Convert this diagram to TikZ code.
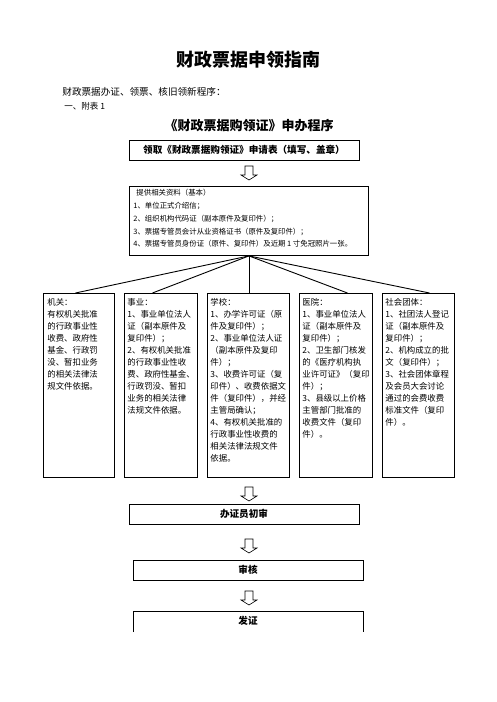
\documentclass[tikz,border=0pt]{standalone}
\usepackage{fontspec}
\setmainfont{Noto Sans CJK SC}

\begin{document}
\begin{tikzpicture}[x=1pt,y=-1pt,line width=0.9pt,
  stepbox/.style={draw, rectangle, minimum height=20pt, inner sep=0pt, font=\bfseries\fontsize{9.6}{10}\selectfont},
  catbox/.style={draw, rectangle, anchor=north west, minimum height=184pt, inner sep=0pt},
  cattext/.style={anchor=north west, inner sep=0pt, align=left, font=\fontsize{8.4}{12}\selectfont},
  hollow/.pic={\draw[line width=0.6pt] (-4,0) -- (4,0) -- (4,9) -- (8,9) -- (0,14) -- (-8,9) -- (-4,9) -- cycle;}]
	\useasboundingbox (0,0) rectangle (496,702);
	% heading
	\node[font=\bfseries\fontsize{18}{18}\selectfont] (title) at (248,60) {财政票据申领指南};
	\node[anchor=west, inner sep=0pt, font=\fontsize{9.6}{10}\selectfont] (intro) at (62,92) {财政票据办证、领票、核旧领新程序：};
	\node[anchor=west, inner sep=0pt, font=\fontsize{8.5}{10}\selectfont] (annex) at (64,106) {一、附表 1};
	\node[font=\bfseries\fontsize{13}{13}\selectfont] (subtitle) at (249,126) {《财政票据购领证》申办程序};
	% steps
	\node[stepbox, minimum width=230pt] (apply) at (244,150) {领取《财政票据购领证》申请表（填写、盖章）};
	\pic at (249,166) {hollow};
	\node[draw, rectangle, anchor=north west, minimum width=239pt, minimum height=69pt, inner sep=0pt] (material) at (129,186) {};
	\node[anchor=north west, inner sep=0pt, align=left, font=\fontsize{7.4}{12.75}\selectfont] (materialtext) at ([shift={(4pt,-3pt)}]material.north west) {\hspace{3pt}提供相关资料（基本）\\ 1、单位正式介绍信；\\ 2、组织机构代码证（副本原件及复印件）；\\ 3、票据专管员会计从业资格证书（原件及复印件）；\\ 4、票据专管员身份证（原件、复印件）及近期 1 寸免冠照片一张。};
	% unit types
	\node[catbox, minimum width=71pt] (jiguan) at (43,293) {};
	\node[catbox, minimum width=73pt] (shiye) at (124,293) {};
	\node[catbox, minimum width=82pt] (xuexiao) at (207,293) {};
	\node[catbox, minimum width=73pt] (yiyuan) at (299,293) {};
	\node[catbox, minimum width=72pt] (shehui) at (382,293) {};
	\path (material.south) edge ([xshift=-3.5pt]jiguan.north);
	\path (material.south) edge ([xshift=-8.5pt]shiye.north);
	\path (material.south) edge ([xshift=0.5pt]xuexiao.north);
	\path (material.south) edge ([xshift=11.5pt]yiyuan.north);
	\path (material.south) edge ([xshift=11pt]shehui.north);
	\node[cattext] (jiguantext) at ([shift={(4pt,-5pt)}]jiguan.north west) {机关：\\ 有权机关批准\\ 的行政事业性\\ 收费、政府性\\ 基金、行政罚\\ 没、暂扣业务\\ 的相关法律法\\ 规文件依据。};
	\node[cattext] (shiyetext) at ([shift={(3pt,-5pt)}]shiye.north west) {事业：\\ 1、事业单位法人\\ 证（副本原件及\\ 复印件）；\\ 2、有权机关批准\\ 的行政事业性收\\ 费、政府性基金、\\ 行政罚没、暂扣\\ 业务的相关法律\\ 法规文件依据。};
	\node[cattext] (xuexiaotext) at ([shift={(3pt,-5pt)}]xuexiao.north west) {学校：\\ 1、办学许可证（原\\ 件及复印件）；\\ 2、事业单位法人证\\ （副本原件及复印\\ 件）；\\ 3、收费许可证（复\\ 印件）、收费依据文\\ 件（复印件），并经\\ 主管局确认；\\ 4、有权机关批准的\\ 行政事业性收费的\\ 相关法律法规文件\\ 依据。};
	\node[cattext] (yiyuantext) at ([shift={(3pt,-5pt)}]yiyuan.north west) {医院：\\ 1、事业单位法人\\ 证（副本原件及\\ 复印件）；\\ 2、卫生部门核发\\ 的《医疗机构执\\ 业许可证》（复印\\ 件）；\\ 3、县级以上价格\\ 主管部门批准的\\ 收费文件（复印\\ 件）。};
	\node[cattext] (shehuitext) at ([shift={(3pt,-5pt)}]shehui.north west) {社会团体：\\ 1、社团法人登记\\ 证（副本原件及\\ 复印件）；\\ 2、机构成立的批\\ 文（复印件）；\\ 3、社会团体章程\\ 及会员大会讨论\\ 通过的会费收费\\ 标准文件（复印\\ 件）。};
	% review
	\pic at (249,487) {hollow};
	\node[stepbox, minimum width=230pt] (firstcheck) at (244,514) {办证员初审};
	\pic at (249,539) {hollow};
	\node[stepbox, minimum width=230pt] (review) at (248,570) {审核};
	\pic at (249,591) {hollow};
	\node[font=\bfseries\fontsize{9.6}{10}\selectfont] (issue) at (248,621) {发证};
	\draw (133,632) -- (133,611) -- (363,611) -- (363,632);
\end{tikzpicture}
\end{document}
